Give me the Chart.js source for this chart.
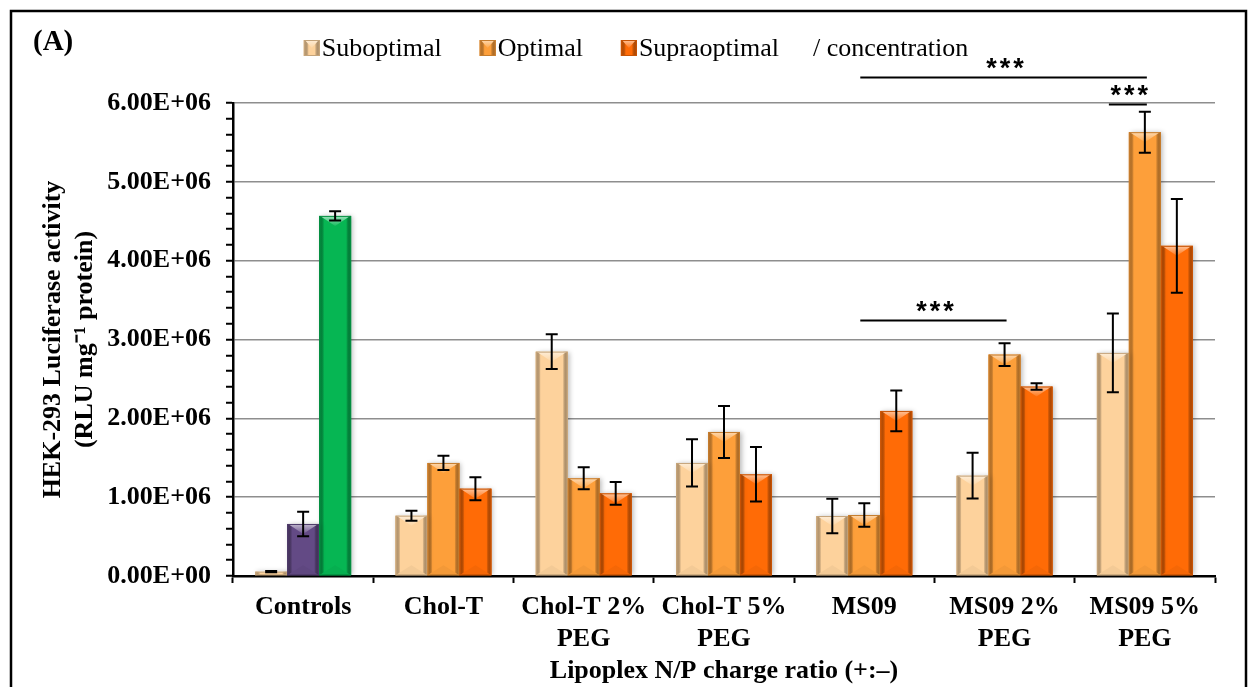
<!DOCTYPE html>
<html lang="en">
<head>
  <meta charset="UTF-8">
  <title>HEK-293 Luciferase activity</title>
  <script src="https://cdn.jsdelivr.net/npm/chart.js"></script>
  <style>
    html, body { margin: 0; padding: 0; background: #fff; }
    .wrap { position: relative; width: 1248px; height: 687px; }
  </style>
</head>
<body>
  <div class="wrap">
    <canvas id="chart" width="1248" height="687"></canvas>
  </div>

  <script>
    // categories on the x axis
    const categories = [['Controls'], ['Chol-T'], ['Chol-T 2%', 'PEG'], ['Chol-T 5%', 'PEG'],
      ['MS09'], ['MS09 2%', 'PEG'], ['MS09 5%', 'PEG']];

    // RLU per mg protein
    const suboptimal = [55000, 765000, 2846000, 1434000, 761000, 1273000, 2830000];
    const suboptimalErr = [8000, 63000, 220000, 300000, 220000, 290000, 500000];
    const optimal = [660000, 1434000, 1240000, 1827000, 774000, 2809000, 5630000];
    const optimalErr = [155000, 90000, 140000, 330000, 150000, 144000, 260000];
    const supraoptimal = [4568000, 1108000, 1049000, 1290000, 2094000, 2403000, 4188000];
    const supraoptimalErr = [60000, 146000, 144000, 345000, 258000, 42000, 595000];

    const seriesNames = ['Suboptimal', 'Optimal', 'Supraoptimal'];

    // significance bars: [category, dataset] to [category, dataset], drawn at a value height
    const sigFrom = [[4, 1], [4, 1], [6, 0]];
    const sigTo = [[5, 1], [6, 1], [6, 1]];
    const sigLevel = [3245000, 6330000, 5990000];
    const sigText = ['***', '***', '***'];

    const PEACH = '#fdd29c', ORANGE = '#fd9f3a', DARK = '#ff6b06';
    const PURPLE = '#634a85', GREEN = '#06b653';
    const serif = '"Liberation Serif", "Times New Roman", serif';

    function perBar(first, rest) {
      return categories.map((c, i) => i === 0 ? first : rest);
    }

    function fmtSci(v) {
      if (v === 0) return '0.00E+00';
      const e = Math.floor(Math.log10(v));
      return (v / Math.pow(10, e)).toFixed(2) + 'E+' + String(e).padStart(2, '0');
    }

    function mix(hex, other, t) {
      const a = parseInt(hex.slice(1), 16), b = parseInt(other.slice(1), 16);
      const ch = (x, s) => (x >> s) & 255;
      const r = Math.round(ch(a, 16) * (1 - t) + ch(b, 16) * t);
      const g = Math.round(ch(a, 8) * (1 - t) + ch(b, 8) * t);
      const bl = Math.round(ch(a, 0) * (1 - t) + ch(b, 0) * t);
      return `rgb(${r},${g},${bl})`;
    }

    // bevel look on each box
    function bevel(ctx, left, top, w, h, base) {
      const right = left + w, cx = left + w / 2;
      const d = Math.min(10, h / 2);
      ctx.save();
      let g = ctx.createLinearGradient(left, 0, left + 5, 0);
      g.addColorStop(0, mix(base, '#000000', 0.12));
      g.addColorStop(1, 'rgba(0,0,0,0)');
      ctx.fillStyle = g;
      ctx.fillRect(left, top, 5, h);
      g = ctx.createLinearGradient(right - 5, 0, right, 0);
      g.addColorStop(0, 'rgba(0,0,0,0)');
      g.addColorStop(1, mix(base, '#000000', 0.2));
      ctx.fillStyle = g;
      ctx.fillRect(right - 5, top, 5, h);
      // top facet
      ctx.beginPath();
      ctx.moveTo(left + 1, top);
      ctx.lineTo(right - 1, top);
      ctx.lineTo(cx, top + d);
      ctx.closePath();
      g = ctx.createLinearGradient(0, top, 0, top + d);
      g.addColorStop(0, mix(base, '#ffffff', 0.6));
      g.addColorStop(1, mix(base, '#ffffff', 0.08));
      ctx.fillStyle = g;
      ctx.fill();
      // bottom facet
      if (h > 24) {
        ctx.beginPath();
        ctx.moveTo(left, top + h);
        ctx.lineTo(right, top + h);
        ctx.lineTo(cx, top + h - d);
        ctx.closePath();
        ctx.fillStyle = mix(base, '#000000', 0.04);
        ctx.fill();
      }
      ctx.strokeStyle = mix(base, '#000000', 0.22);
      ctx.lineWidth = 1;
      ctx.strokeRect(left + 0.5, top + 0.5, w - 1, h - 1);
      ctx.restore();
    }

    const barLook = {
      id: 'barLook',
      beforeDatasetsDraw(chart) {
        const ctx = chart.ctx;
        ctx.save();
        ctx.shadowColor = 'rgba(0,0,0,0.28)';
        ctx.shadowBlur = 5;
        ctx.shadowOffsetX = 2;
        ctx.shadowOffsetY = 0;
      },
      afterDatasetsDraw(chart) {
        const ctx = chart.ctx;
        ctx.restore();
        chart.data.datasets.forEach((ds, di) => {
          chart.getDatasetMeta(di).data.forEach((bar, i) => {
            const col = Array.isArray(ds.backgroundColor) ? ds.backgroundColor[i] : ds.backgroundColor;
            const w = bar.width, h = bar.base - bar.y;
            if (h <= 0) return;
            bevel(ctx, bar.x - w / 2, bar.y, w, h, col);
          });
        });
      }
    };

    const errorBars = {
      id: 'errorBars',
      afterDatasetsDraw(chart) {
        const ctx = chart.ctx, y = chart.scales.y;
        ctx.save();
        ctx.strokeStyle = '#000';
        ctx.lineWidth = 2;
        chart.data.datasets.forEach((ds, di) => {
          chart.getDatasetMeta(di).data.forEach((bar, i) => {
            const v = ds.data[i], e = ds.errors[i];
            const y1 = y.getPixelForValue(v + e), y2 = y.getPixelForValue(v - e);
            const x = bar.x, c = 6;
            ctx.beginPath();
            ctx.moveTo(x, y1); ctx.lineTo(x, y2);
            ctx.moveTo(x - c, y1); ctx.lineTo(x + c, y1);
            ctx.moveTo(x - c, y2); ctx.lineTo(x + c, y2);
            ctx.stroke();
          });
        });
        ctx.restore();
      }
    };

    const decorations = {
      id: 'decorations',
      afterDraw(chart) {
        const ctx = chart.ctx, y = chart.scales.y;
        ctx.save();

        // significance lines
        ctx.strokeStyle = '#000';
        ctx.fillStyle = '#000';
        ctx.lineWidth = 2;
        ctx.font = 'bold 27px "Liberation Sans", Arial, sans-serif';
        ctx.textAlign = 'center';
        ctx.textBaseline = 'middle';
        ctx.letterSpacing = '3px';
        sigLevel.forEach((lvl, k) => {
          const a = chart.getDatasetMeta(sigFrom[k][1]).data[sigFrom[k][0]];
          const b = chart.getDatasetMeta(sigTo[k][1]).data[sigTo[k][0]];
          const py = Math.round(y.getPixelForValue(lvl)) + 0.5;
          ctx.beginPath();
          ctx.moveTo(a.x - 4, py); ctx.lineTo(b.x + 2, py);
          ctx.stroke();
          ctx.fillText(sigText[k], (a.x + b.x) / 2 + 2, py - 8);
        });
        ctx.letterSpacing = '0px';

        // legend
        const legendColors = [PEACH, ORANGE, DARK];
        ctx.font = '26px ' + serif;
        ctx.textAlign = 'left';
        ctx.textBaseline = 'middle';
        const ly = 48, box = 16, gap = 38;
        const widths = seriesNames.map(s => ctx.measureText(s).width);
        const tail = '/ concentration';
        const tailW = ctx.measureText(tail).width;
        let total = widths.reduce((s, w) => s + box + 2 + w + gap, 0) + tailW - 4;
        let x = chart.width / 2 + 12 - total / 2;
        seriesNames.forEach((s, k) => {
          ctx.fillStyle = legendColors[k];
          ctx.fillRect(x, ly - 8, box, box);
          bevel(ctx, x, ly - 8, box, box, legendColors[k]);
          ctx.fillStyle = '#000';
          ctx.fillText(s, x + box + 2, ly + 1);
          x += box + 2 + widths[k] + gap;
        });
        ctx.fillStyle = '#000';
        ctx.fillText(tail, x - 4, ly + 1);

        // panel letter
        ctx.font = 'bold 29px ' + serif;
        ctx.fillText('(A)', 33, 43);

        // frame
        ctx.strokeStyle = '#000';
        ctx.lineWidth = 2.5;
        ctx.strokeRect(11, 11, chart.width - 13, chart.height + 20);
        ctx.restore();
      }
    };

    new Chart(document.getElementById('chart'), {
      type: 'bar',
      data: {
        labels: categories,
        datasets: [
          { label: seriesNames[0], data: suboptimal, errors: suboptimalErr,
            backgroundColor: perBar(PEACH, PEACH) },
          { label: seriesNames[1], data: optimal, errors: optimalErr,
            backgroundColor: perBar(PURPLE, ORANGE) },
          { label: seriesNames[2], data: supraoptimal, errors: supraoptimalErr,
            backgroundColor: perBar(GREEN, DARK) }
        ]
      },
      options: {
        responsive: false,
        animation: false,
        devicePixelRatio: 1,
        categoryPercentage: 0.684,
        barPercentage: 1,
        layout: { padding: { top: 103, right: 33, left: 0, bottom: 0 } },
        plugins: {
          legend: { display: false },
          tooltip: { enabled: false }
        },
        scales: {
          x: {
            afterFit: s => { s.height = 111; },
            border: { color: '#000', width: 2.5 },
            grid: { color: 'rgba(0,0,0,0)', tickColor: '#000', tickLength: 7, tickWidth: 2, drawOnChartArea: false },
            ticks: { color: '#000', padding: 8, font: { family: serif, size: 26, weight: 'bold', lineHeight: 1.25 } },
            title: {
              display: true, text: 'Lipoplex N/P charge ratio (+:–)', color: '#000',
              font: { family: serif, size: 26, weight: 'bold', lineHeight: 1.2 },
              padding: { top: 0, bottom: 0 }
            }
          },
          y: {
            min: 0, max: 6000000,
            afterFit: s => { s.width = 233; },
            border: { color: '#000', width: 2.5 },
            grid: {
              color: c => (c.tick && c.tick.value % 1000000 === 0) ? '#8e8e8e' : 'rgba(0,0,0,0)',
              lineWidth: 1.5, tickColor: '#000', tickLength: 7, tickWidth: 2
            },
            ticks: {
              stepSize: 200000, autoSkip: false, color: '#000', padding: 15,
              font: { family: serif, size: 26, weight: 'bold' },
              callback: v => (v % 1000000 === 0) ? fmtSci(v) : ''
            },
            title: {
              display: true, text: ['HEK-293 Luciferase activity', '(RLU mg⁻¹ protein)'], color: '#000',
              font: { family: serif, size: 26, weight: 'bold', lineHeight: 1.2 },
              padding: { top: 38, bottom: 0 }
            }
          }
        }
      },
      plugins: [barLook, errorBars, decorations]
    });
  </script>
</body>
</html>
